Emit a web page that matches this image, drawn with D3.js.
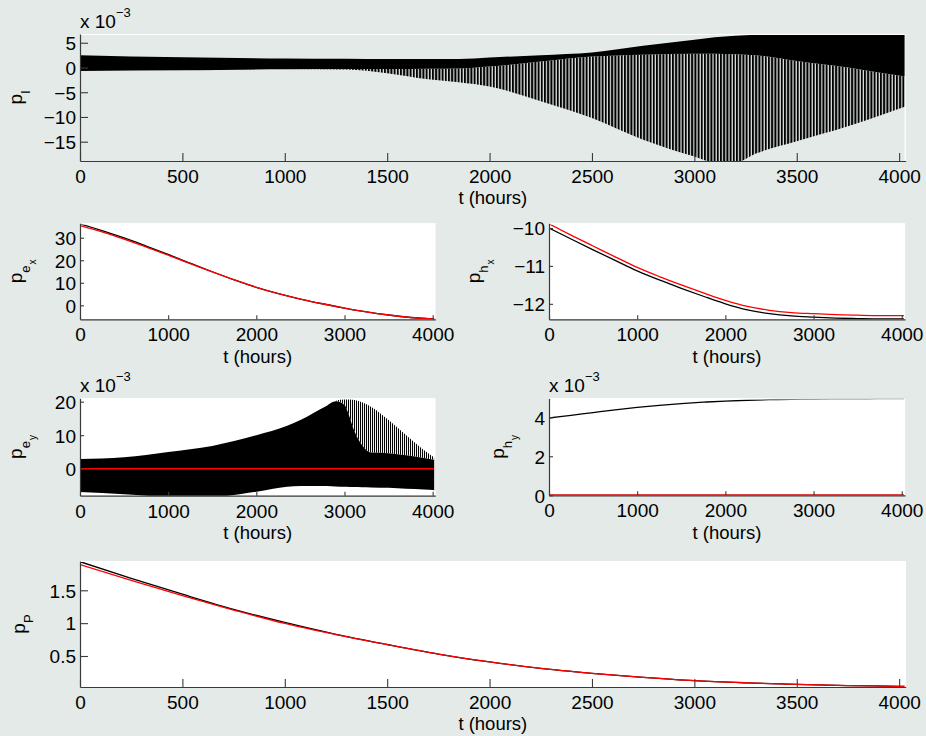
<!DOCTYPE html>
<html><head><meta charset="utf-8">
<script src="https://cdn.jsdelivr.net/npm/d3@7"></script>
<style>
html,body{margin:0;padding:0;background:#e3eae7;}
svg{display:block;}
text{font-family:"Liberation Sans",Arial,Helvetica,sans-serif;fill:#000;}
</style></head><body>
<svg id="chart" width="926" height="736"></svg>
<script>
// ---------------- DATA ----------------
// p_I (x 1e-3): dense oscillation, described by its envelopes
const pITimes  = [0, 500, 1000, 1300, 1500, 1700, 1850, 2000, 2250, 2500, 2750, 3000, 3100, 3200, 3300, 3500, 3750, 3900, 4030];
const pIUpper  = [2.5, 2.05, 1.83, 1.75, 1.7, 1.7, 1.7, 2.0, 2.5, 3.05, 4.4, 5.6, 6.1, 6.4, 6.6, 6.8, 6.8, 6.8, 6.8];
const pIDense  = [-0.69, -0.55, -0.35, -0.3, -0.3, -0.25, -0.2, 0.2, 1.2, 2.2, 2.6, 2.8, 2.8, 2.7, 2.5, 1.3, 0.0, -1.0, -1.8];
const pILower  = [-0.69, -0.55, -0.35, -0.4, -1.16, -2.38, -3.0, -3.86, -6.8, -10.2, -14.6, -18.0, -19.2, -19.2, -17.4, -14.9, -11.9, -9.8, -7.9];

// smooth series sampled every 250 hours
const tCurve   = [0, 250, 500, 750, 1000, 1250, 1500, 1750, 2000, 2250, 2500, 2750, 3000, 3250, 3500, 3750, 4000, 4030];
const pExBlack = [36.2, 33.2, 29.9, 26.3, 22.6, 18.7, 14.9, 11.3, 8.0, 5.2, 2.8, 0.7, -1.2, -2.9, -4.3, -5.4, -6.05, -6.1];
const pExRed   = [35.4, 32.6, 29.4, 25.9, 22.3, 18.5, 14.8, 11.3, 8.0, 5.2, 2.8, 0.7, -1.2, -2.9, -4.3, -5.4, -6.05, -6.1];
const pHxBlack = [-10.0, -10.29, -10.575, -10.855, -11.13, -11.37, -11.59, -11.80, -12.0, -12.16, -12.26, -12.32, -12.35, -12.375, -12.39, -12.40, -12.40, -12.40];
const pHxRed   = [-9.89, -10.19, -10.475, -10.76, -11.04, -11.28, -11.50, -11.71, -11.91, -12.07, -12.17, -12.23, -12.26, -12.285, -12.30, -12.31, -12.31, -12.31];
const pHyBlack = [3.96, 4.10, 4.24, 4.38, 4.5, 4.61, 4.7, 4.77, 4.83, 4.87, 4.9, 4.92, 4.93, 4.94, 4.94, 4.95, 4.95, 4.95];
const pPBlack  = [1.935, 1.68, 1.44, 1.21, 1.01, 0.83, 0.675, 0.53, 0.41, 0.31, 0.236, 0.175, 0.124, 0.092, 0.069, 0.05, 0.038, 0.036];
const pPRed    = [1.89, 1.65, 1.42, 1.20, 0.995, 0.825, 0.672, 0.53, 0.41, 0.31, 0.236, 0.175, 0.124, 0.092, 0.069, 0.05, 0.038, 0.036];

// p_ey (x 1e-3): dense oscillation envelopes, red reference at zero
const pEyTimes = [0, 500, 1000, 1500, 2000, 2350, 2500, 2800, 2900, 3000, 3050, 3100, 3200, 3300, 3500, 3700, 3900, 4030];
const pEyUpper = [2.9, 3.4, 5.0, 6.8, 10.0, 12.8, 14.5, 18.8, 20.2, 20.8, 20.8, 20.6, 19.8, 18.5, 14.5, 10.0, 5.6, 3.1];
const pEyDense = [2.9, 3.4, 5.0, 6.8, 10.0, 12.8, 14.5, 18.8, 20.1, 19.0, 16.0, 12.0, 7.0, 4.8, 4.6, 4.0, 3.2, 2.6];
const pEyLower = [-6.95, -7.6, -8.4, -8.4, -6.86, -5.4, -5.2, -5.2, -5.3, -5.4, -5.45, -5.5, -5.55, -5.6, -5.7, -6.0, -6.2, -6.4];
const flatTimes = [0, 4030];
const pEyRed   = [0, 0];
const pHyRed   = [0, 0];

// axis ticks
const xTicksWide   = [0, 500, 1000, 1500, 2000, 2500, 3000, 3500, 4000];
const xTicksNarrow = [0, 1000, 2000, 3000, 4000];
const yTicksPI  = [5, 0, -5, -10, -15];
const yTicksPEx = [30, 20, 10, 0];
const yTicksPHx = [-10, -11, -12];
const yTicksPEy = [20, 10, 0];
const yTicksPHy = [4, 2, 0];
const yTicksPP  = [1.5, 1, 0.5];

// ---------------- LAYOUT ----------------
const svg = d3.select("#chart");
const BG = "#e3eae7";
svg.append("rect").attr("width", 926).attr("height", 736).attr("fill", BG);
const fmt = d3.format("~g");

const defs = svg.append("defs");
function stripe(id, w, lw) {
  const p = defs.append("pattern").attr("id", id).attr("patternUnits", "userSpaceOnUse")
    .attr("width", w).attr("height", 10);
  p.append("rect").attr("x", 0).attr("y", 0).attr("width", lw).attr("height", 10).attr("fill", "#000");
}
stripe("teethI", 3.2, 2.0);
stripe("teethEy", 2.0, 1.05);

let clipN = 0;
function panel(o) {
  const x = d3.scaleLinear().domain(o.xd).range([o.x0, o.x1]);
  const y = d3.scaleLinear().domain(o.yd).range([o.y1, o.y0]);
  const g = svg.append("g");
  if (o.white) g.append("rect").attr("x", o.x0).attr("y", o.y0).attr("width", o.x1 - o.x0).attr("height", o.y1 - o.y0).attr("fill", "#fff");
  const id = "clip" + (clipN++);
  defs.append("clipPath").attr("id", id).append("rect")
    .attr("x", o.x0).attr("y", o.y0).attr("width", o.x1 - o.x0).attr("height", o.y1 - o.y0);
  const plot = g.append("g").attr("clip-path", `url(#${id})`);
  g.append("path").attr("d", `M${o.x0},${o.y0 + 0.5}H${o.x1 - 0.5}V${o.y1}`).attr("fill", "none").attr("stroke", "#fff").attr("stroke-width", 1.2);
  return {x, y, g, plot};
}
function axes(P, o) {
  const ax = P.g.append("g").attr("transform", `translate(0,${o.y1})`)
    .call(d3.axisBottom(P.x).tickValues(o.xt).tickSizeInner(-o.tl).tickSizeOuter(0).tickFormat(fmt));
  ax.selectAll("text").attr("y", 22).attr("dy", 0).style("font-size", "19px");
  const ay = P.g.append("g").attr("transform", `translate(${o.x0},0)`)
    .call(d3.axisLeft(P.y).tickValues(o.yt).tickSizeInner(-o.tl).tickSizeOuter(0).tickPadding(4).tickFormat(fmt));
  ay.selectAll("text").attr("dy", "0.36em").style("font-size", "19px");
  [ax, ay].forEach(a => {
    a.select(".domain").attr("stroke", "#3a3a3a").attr("stroke-width", 1.2);
    a.selectAll(".tick line").attr("stroke", "#3a3a3a").attr("stroke-width", 1.1);
    a.attr("font-family", null).attr("font-size", null);
  });
  P.g.append("text").attr("x", (o.x0 + o.x1) / 2).attr("y", o.xlY).attr("text-anchor", "middle")
    .style("font-size", "18.5px").text("t (hours)");
  const t = P.g.append("text").attr("transform", `translate(${o.ylX},${(o.y0 + o.y1) / 2}) rotate(-90)`)
    .attr("text-anchor", "middle").style("font-size", "19px");
  t.append("tspan").text("p");
  t.append("tspan").attr("dy", 8).style("font-size", "13px").text(o.sub);
  if (o.sub2) t.append("tspan").attr("dy", 6).attr("dx", 1).style("font-size", "10px").text(o.sub2);
  if (o.exp) {
    const e = P.g.append("text").attr("x", o.x0).attr("y", o.expY).style("font-size", "19px");
    e.append("tspan").text("x 10");
    e.append("tspan").attr("dy", -11).style("font-size", "13px").text("\u22123");
  }
}
function line(P, xs, ys, color, w) {
  const gen = d3.line().x((d, i) => P.x(xs[i])).y(d => P.y(d)).curve(d3.curveMonotoneX);
  P.plot.append("path").attr("d", gen(ys)).attr("fill", "none").attr("stroke", color).attr("stroke-width", w || 1.3);
}
function band(P, xs, top, bot, fill) {
  const gen = d3.area().x((d, i) => P.x(xs[i])).y0((d, i) => P.y(bot[i])).y1(d => P.y(d)).curve(d3.curveMonotoneX);
  P.plot.append("path").attr("d", gen(top)).attr("fill", fill).attr("stroke", "none");
}

// ---- Panel 1: p_I ----
const o1 = {x0: 80, x1: 905.7, y0: 34, y1: 161, xd: [0, 4032], yd: [-18.9, 6.77], white: false,
  xt: xTicksWide, yt: yTicksPI, tl: 8, xlY: 204, ylX: 22, sub: "I", exp: true, expY: 28};
const P1 = panel(o1);
band(P1, pITimes, pIDense, pILower, "url(#teethI)");
band(P1, pITimes, pIUpper, pIDense, "#000");
axes(P1, o1);

// ---- Panel 2: p_ex ----
const o2 = {x0: 80, x1: 435.3, y0: 223.3, y1: 319.3, xd: [0, 4030], yd: [-6.2, 36.4], white: true,
  xt: xTicksNarrow, yt: yTicksPEx, tl: 4, xlY: 363, ylX: 22, sub: "e", sub2: "x"};
const P2 = panel(o2);
line(P2, tCurve, pExBlack, "#000");
line(P2, tCurve, pExRed, "#ff0000");
axes(P2, o2);

// ---- Panel 3: p_hx ----
const o3 = {x0: 549, x1: 905, y0: 223.3, y1: 319.3, xd: [0, 4037], yd: [-12.408, -9.876], white: true,
  xt: xTicksNarrow, yt: yTicksPHx, tl: 4, xlY: 363, ylX: 480, sub: "h", sub2: "x"};
const P3 = panel(o3);
line(P3, tCurve, pHxBlack, "#000");
line(P3, tCurve, pHxRed, "#ff0000");
axes(P3, o3);

// ---- Panel 4: p_ey ----
const o4 = {x0: 80, x1: 435.3, y0: 398.3, y1: 495.7, xd: [0, 4030], yd: [-8.06, 21.0], white: true,
  xt: xTicksNarrow, yt: yTicksPEy, tl: 4, xlY: 539, ylX: 22, sub: "e", sub2: "y", exp: true, expY: 392};
const P4 = panel(o4);
band(P4, pEyTimes, pEyUpper, pEyDense, "url(#teethEy)");
band(P4, pEyTimes, pEyDense, pEyLower, "#000");
line(P4, flatTimes, pEyRed, "#ff0000", 1.6);
axes(P4, o4);

// ---- Panel 5: p_hy ----
const o5 = {x0: 549, x1: 905, y0: 398.3, y1: 495.3, xd: [0, 4037], yd: [0, 4.97], white: true,
  xt: xTicksNarrow, yt: yTicksPHy, tl: 4, xlY: 539, ylX: 504, sub: "h", sub2: "y", exp: true, expY: 392};
const P5 = panel(o5);
line(P5, tCurve, pHyBlack, "#000");
line(P5, flatTimes, pHyRed, "#cc0000", 2);
axes(P5, o5);

// ---- Panel 6: p_P ----
const o6 = {x0: 80, x1: 905.7, y0: 561, y1: 687, xd: [0, 4032], yd: [0.028, 1.946], white: true,
  xt: xTicksWide, yt: yTicksPP, tl: 8, xlY: 730, ylX: 25, sub: "P"};
const P6 = panel(o6);
line(P6, tCurve, pPBlack, "#000");
line(P6, tCurve, pPRed, "#ff0000");
axes(P6, o6);
</script>
</body></html>
